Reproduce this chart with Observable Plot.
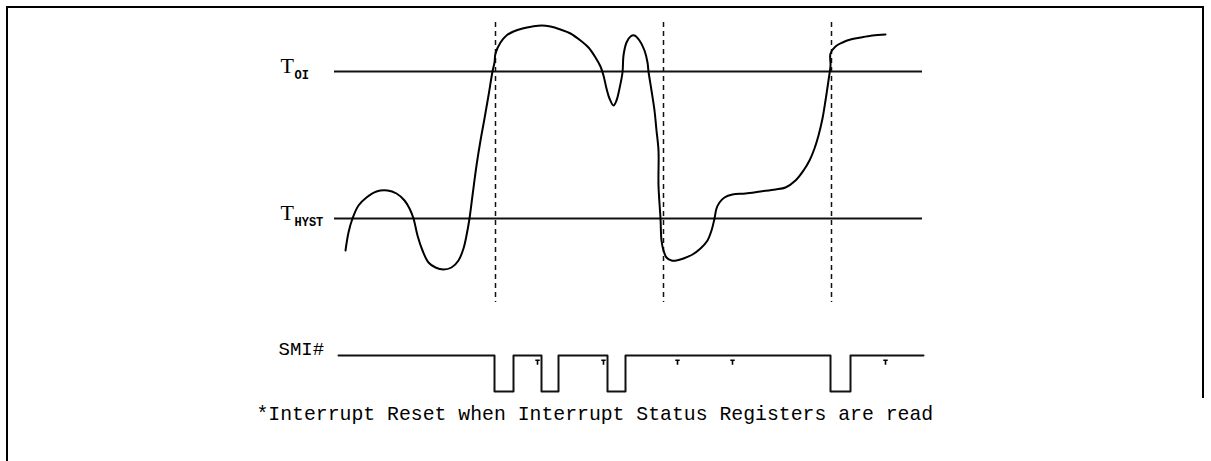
<!DOCTYPE html>
<html><head><meta charset="utf-8">
<script src="https://cdn.jsdelivr.net/npm/d3@7"></script>
<script src="https://cdn.jsdelivr.net/npm/@observablehq/plot@0.6"></script>
<style>
html,body{margin:0;padding:0;background:#fff;}
#wrap{position:relative;width:1211px;height:461px;overflow:hidden;}
.edge{position:absolute;background:#000;}
#chart{position:absolute;left:0;top:0;}
</style></head><body>
<div id="wrap">
<div class="edge" style="left:6px;top:6px;width:2px;height:460px"></div>
<div class="edge" style="left:6px;top:6px;width:1198px;height:2px"></div>
<div class="edge" style="left:1202px;top:6px;width:2px;height:392px"></div>
<div id="chart"></div></div>
<script>
const curveTime  = [345,348,352,358,366,376,387,396,404,409,413,417,422,428,435,443,451,458,463,466,469,472,476,480,484,488,492,494,495,500,506,513,522,532,541,550,560,570,580,588,595,600,603,606,609,613,616,619,622,623,626,630,634,639,644,647,648,651,654,656,658,658,660,661,663,666,671,676,683,692,700,707,711,714,716,719,724,732,745,760,775,785,795,803,809,814,818,822,825,828,830,830,835,842,850,860,872,885];
const curveLevel = [250,232,218,205,197,191,190,193,200,208,218,235,250,262,267,269,267,260,248,235,218,195,165,140,118,95,71,62,53,42,35,31,28,26,25,26,29,33,40,47,57,66,75,88,98,105,100,88,72,55,42,36,35,40,50,62,71,90,110,130,150,185,218,240,250,257,260,260,258,254,248,240,230,218,208,202,197,194,193,191,189,187,180,170,160,148,135,118,100,80,65,53,46,42,39,37,35,34];

const thresholdMain = ["T", "T"];
const thresholdSub  = ["OI", "HYST"];
const thresholdLevel = [71, 218];
const thresholdSpan = [334, 922];

const eventTimes = [495, 663, 831];
const eventSpan = [22, 302];

const smiLabel = "SMI#";
const smiSpan = [338, 923];
const smiHigh = 355, smiLow = 391;
const smiPulses = [[494,513],[541,558],[607,625],[830,850]];
const resetTimes = [537, 603, 677, 732, 885];

const footnote = "*Interrupt Reset when Interrupt Status Registers are read";

// ---- build tables ----
const curve = curveTime.map((t,i)=>({t, v: curveLevel[i]}));
const thresholds = thresholdLevel.map((v,i)=>({v, main: thresholdMain[i], sub: thresholdSub[i]}));
const smi = [{t: smiSpan[0], v: smiHigh}];
for (const [a,b] of smiPulses) smi.push({t:a,v:smiHigh},{t:a,v:smiLow},{t:b,v:smiLow},{t:b,v:smiHigh});
smi.push({t: smiSpan[1], v: smiHigh});

const tSymbol = {draw(ctx, size){ const r = Math.sqrt(size)/2; ctx.moveTo(-r,-r); ctx.lineTo(r,-r); ctx.moveTo(0,-r); ctx.lineTo(0,r); }};

const font = "Liberation Mono, DejaVu Sans Mono, monospace";
const chart = Plot.plot({
  width: 1211, height: 461, margin: 0,
  style: {background: "transparent"},
  x: {domain: [0, 1211], axis: null},
  y: {domain: [461, 0], axis: null},
  marks: [
    Plot.ruleY(thresholds, {y: "v", x1: thresholdSpan[0], x2: thresholdSpan[1], stroke: "#111", strokeWidth: 2}),
    Plot.ruleX(eventTimes, {x: d=>d, y1: eventSpan[0], y2: eventSpan[1], stroke: "#111", strokeWidth: 1.5, strokeDasharray: "5,4"}),
    Plot.line(curve, {x: "t", y: "v", stroke: "#000", strokeWidth: 2, curve: "catmull-rom"}),
    Plot.line(smi, {x: "t", y: "v", stroke: "#111", strokeWidth: 2}),
    Plot.dot(resetTimes, {x: d=>d, y: smiHigh, dy: 7, symbol: tSymbol, r: 2.5, stroke: "#000", strokeWidth: 1.6, fill: "none"}),
    Plot.text(thresholds, {x: 280, y: "v", text: "main", textAnchor: "start", dy: -6, fontSize: 22, fontFamily: "Liberation Serif, serif", fill: "#000"}),
    Plot.text(thresholds, {x: 294, y: "v", text: "sub", textAnchor: "start", dy: 4, fontSize: 12, fontFamily: font, fontWeight: "bold", fill: "#000"}),
    Plot.text([smiLabel], {x: 278, y: smiHigh, text: d=>d, textAnchor: "start", dy: -7, fontSize: 19, fontFamily: font, fill: "#000"}),
    Plot.text([footnote], {x: 256, y: 413, text: d=>d, textAnchor: "start", fontSize: 19.8, fontFamily: font, fill: "#000"})
  ]
});
document.getElementById("chart").appendChild(chart);
</script></body></html>
